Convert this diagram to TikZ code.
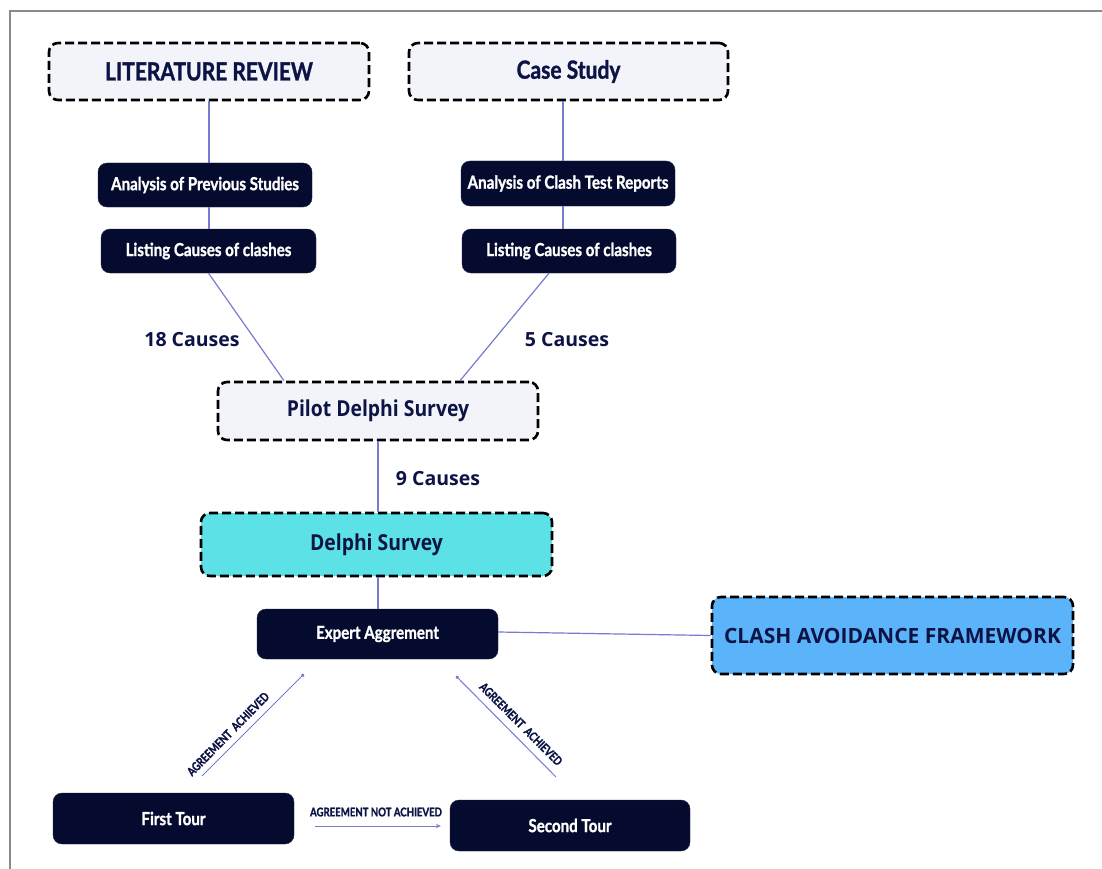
\documentclass[tikz,border=0pt]{standalone}
\usepackage{fontspec}
\usetikzlibrary{arrows.meta}
\newfontfamily\condfont{Lato}[FakeStretch=0.84, FakeBold=1.2]
\newfontfamily\headfont{Open Sans}[FakeStretch=0.88]
\newfontfamily\plainfont{Open Sans}
\newfontfamily\tinyfont{Lato}[FakeStretch=0.8, FakeBold=1.5]
\definecolor{navy}{HTML}{050B2E}
\definecolor{ink}{HTML}{0C1445}
\definecolor{pale}{HTML}{F3F4FA}
\definecolor{cyanbox}{HTML}{5CE1E6}
\definecolor{bluebox}{HTML}{5BB4FA}
\definecolor{link}{HTML}{767BCF}
\definecolor{frame}{HTML}{8A8A8A}
\tikzset{
  dashbox/.style={draw=black, line width=2.6pt, dash pattern=on 9pt off 4pt, rounded corners=9pt, fill=pale, text=ink, inner sep=0pt},
  darkbox/.style={fill=navy, draw=navy!80!gray, line width=0.4pt, rounded corners=9pt, text=white, inner sep=0pt, font=\condfont\bfseries\fontsize{18}{20}\selectfont},
  conn/.style={draw=link, line width=1.2pt},
  lbl/.style={text=ink, font=\plainfont\bfseries\fontsize{19.5}{22}\selectfont, inner sep=0pt},
  tinylbl/.style={text=ink, font=\tinyfont\bfseries\fontsize{12}{13}\selectfont, inner sep=0pt}
}
\begin{document}
\begin{tikzpicture}[x=1pt,y=-1pt]
\useasboundingbox (0,0) rectangle (1102,869);
\draw[frame, line width=2pt] (1102,11) -- (9.5,11) -- (9.5,869);

\node[dashbox, minimum width=320pt, minimum height=57pt, font=\condfont\bfseries\fontsize{25}{28}\selectfont] (lit) at (209,71.5) {LITERATURE REVIEW};
\node[dashbox, minimum width=319pt, minimum height=57pt, font=\condfont\bfseries\fontsize{25}{28}\selectfont] (case) at (568.5,71.5) {Case Study};

\node[darkbox, minimum width=214pt, minimum height=44pt] (aps) at (205,185) {Analysis of Previous Studies};
\node[darkbox, minimum width=215pt, minimum height=44pt] (lcl) at (208.5,251) {Listing Causes of clashes};
\node[darkbox, minimum width=214pt, minimum height=45pt] (act) at (568,183.5) {Analysis of Clash Test Reports};
\node[darkbox, minimum width=214pt, minimum height=44pt] (rcl) at (569,251) {Listing Causes of clashes};

\node[dashbox, minimum width=320pt, minimum height=58pt, font=\headfont\bfseries\fontsize{22}{24}\selectfont] (pilot) at (378,411) {Pilot Delphi Survey};
\node[dashbox, fill=cyanbox, minimum width=351pt, minimum height=63pt, font=\headfont\bfseries\fontsize{22}{24}\selectfont] (delphi) at (376.5,544.5) {Delphi Survey};

\node[darkbox, minimum width=241pt, minimum height=50pt] (expert) at (377.5,634) {Expert Aggrement};
\node[dashbox, fill=bluebox, minimum width=361pt, minimum height=77pt, font=\plainfont\bfseries\fontsize{21}{24}\selectfont] (caf) at (892.5,635.5) {CLASH AVOIDANCE FRAMEWORK};

\node[darkbox, minimum width=241pt, minimum height=51pt] (first) at (173.5,818.5) {First Tour};
\node[darkbox, minimum width=240pt, minimum height=51pt] (second) at (570,825.5) {Second Tour};

% connectors
\draw[conn] (lit.south) -- ([xshift=4pt]aps.north);
\draw[conn] ([xshift=4pt]aps.south) -- ([xshift=0.5pt]lcl.north);
\draw[conn] ([xshift=-5.5pt]case.south) -- ([xshift=-5pt]act.north);
\draw[conn] ([xshift=-5pt]act.south) -- ([xshift=-6pt]rcl.north);
\draw[conn] ([xshift=0pt]lcl.south) -- ([xshift=-94pt]pilot.north);
\draw[conn] ([xshift=-20pt]rcl.south) -- ([xshift=82pt]pilot.north);
\draw[conn] (pilot.south) -- ([xshift=1.5pt]delphi.north);
\draw[conn] ([xshift=1.5pt]delphi.south) -- ([xshift=0.5pt]expert.north);
\draw[conn] ([yshift=2pt]expert.east) -- (caf.west);

\coordinate (fa) at (202,776);
\coordinate (fb) at (304,674);
\coordinate (sa) at (556,777);
\coordinate (sb) at (456,676);
\coordinate (na) at (315,826);
\coordinate (nb) at (441,826);
\draw[conn, line width=1pt, -{Circle[length=3.5pt]}] (fa) -- (fb);
\draw[conn, line width=1pt, -{Circle[length=3.5pt]}] (sa) -- (sb);
\draw[conn, line width=1pt, -{Stealth[length=5pt,width=4pt]}] (na) -- (nb);

% labels
\node[lbl] (c18) at (192,340) {18 Causes};
\node[lbl] (c5) at (567,340) {5 Causes};
\node[lbl] (c9) at (438,479) {9 Causes};
\node[tinylbl, rotate=45.5] (l1) at (228,734) {AGREEMENT\ \ ACHIEVED};
\node[tinylbl, rotate=-45] (l2) at (521,724) {AGREEMENT\ \ ACHIEVED};
\node[tinylbl] (l3) at (376,812) {AGREEMENT NOT ACHIEVED};
\end{tikzpicture}
\end{document}
